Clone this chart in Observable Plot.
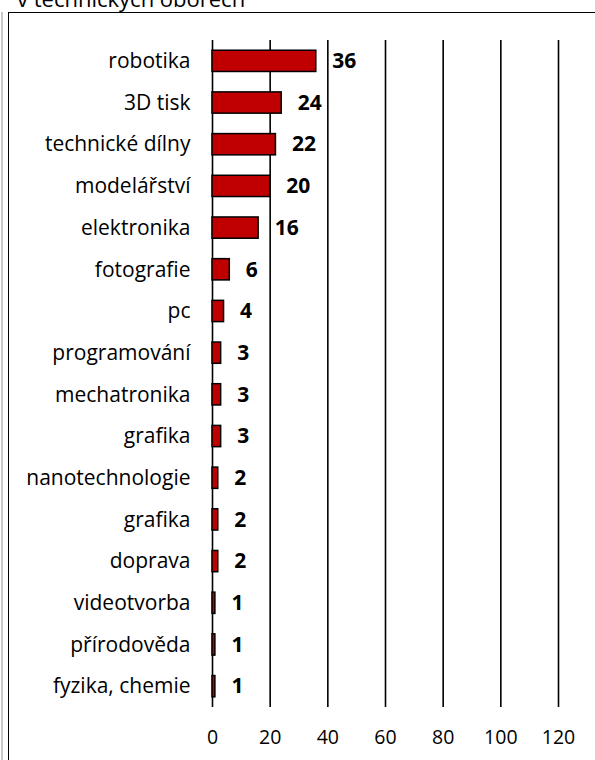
<!DOCTYPE html>
<html>
<head>
<meta charset="utf-8">
<script src="https://cdn.jsdelivr.net/npm/d3@7"></script>
<script src="https://cdn.jsdelivr.net/npm/@observablehq/plot@0.6"></script>
<style>
  html, body { margin: 0; padding: 0; background: #fff; }
  #wrap { position: relative; width: 595px; height: 760px; overflow: hidden; background: #fff; font-family: "Open Sans", sans-serif; }
  #title { position: absolute; left: 17px; top: -17px; font-size: 22px; color: #000; white-space: nowrap; }
  #frame { position: absolute; left: 8px; top: 12px; width: 620px; height: 800px; border: 1.5px solid #000; box-sizing: border-box; }
  #grayline { position: absolute; left: 1px; top: 12px; width: 2px; height: 760px; background: #c8c8c8; }
  #chart { position: absolute; left: 0; top: 0; }
</style>
</head>
<body>
<div id="wrap">
  <div id="grayline"></div>
  <div id="frame"></div>
  <div id="title">v technických oborech</div>
  <div id="chart"></div>
</div>
<script>
const categories = ["robotika", "3D tisk", "technické dílny", "modelářství", "elektronika", "fotografie", "pc", "programování", "mechatronika", "grafika", "nanotechnologie", "grafika", "doprava", "videotvorba", "přírodověda", "fyzika, chemie"];
const values = [36, 24, 22, 20, 16, 6, 4, 3, 3, 3, 2, 2, 2, 1, 1, 1];
const xTicks = [0, 20, 40, 60, 80, 100, 120];

const data = categories.map((c, i) => ({i, name: c, value: values[i]}));

const chart = Plot.plot({
  width: 595,
  height: 760,
  marginLeft: 212,
  marginRight: 37,
  marginTop: 40,
  marginBottom: 53,
  style: {fontFamily: "'Open Sans', sans-serif", fontSize: "19px", background: "transparent", color: "#000"},
  x: {domain: [0, 120]},
  y: {domain: d3.range(categories.length), paddingInner: 0.49, paddingOuter: 0.245, round: false},
  marks: [
    Plot.ruleX(xTicks, {stroke: "#000", strokeWidth: 1.6}),
    Plot.barX(data, {x: "value", y: "i", fill: "#C00000", stroke: "#000", strokeWidth: 1.5}),
    Plot.text(data, {x: "value", y: "i", text: d => String(d.value), dx: 16, textAnchor: "start", fontWeight: "bold", fontSize: 21, fill: "#000"}),
    Plot.axisX({ticks: xTicks, tickSize: 0, tickPadding: 23, label: null, fontSize: 19.5}),
    Plot.axisY({tickSize: 0, tickPadding: 22, label: null, tickFormat: i => categories[i], fontSize: 21})
  ]
});
document.getElementById("chart").appendChild(chart);
</script>
</body>
</html>
